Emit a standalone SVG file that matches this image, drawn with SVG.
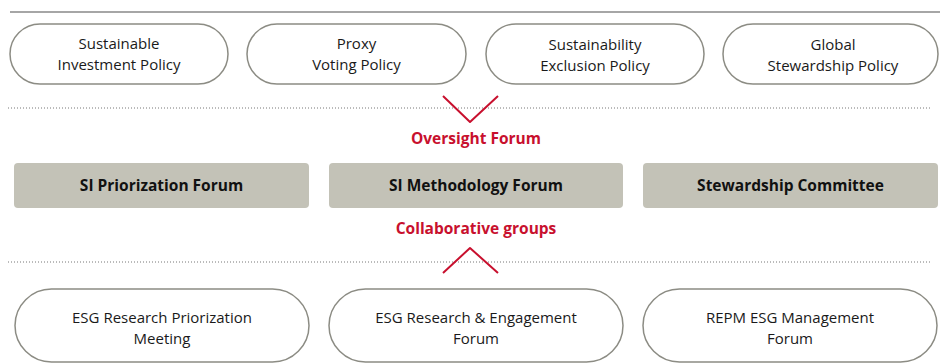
<svg xmlns="http://www.w3.org/2000/svg" width="940" height="364" viewBox="0 0 940 364">
<style>
.pill{fill:#fff;stroke:#8c8c84;stroke-width:1.5}
.box{fill:#c3c2b7}
.t{font-family:"Open Sans","Liberation Sans",sans-serif;font-size:15px;fill:#1a1a1a;text-anchor:middle}
.b{font-family:"Open Sans","Liberation Sans",sans-serif;font-size:15.5px;font-weight:bold;fill:#111;text-anchor:middle}
.r{font-family:"Open Sans","Liberation Sans",sans-serif;font-size:15.5px;font-weight:bold;fill:#c8102e;text-anchor:middle}
.dot{stroke:#777;stroke-width:1;stroke-dasharray:1 2;fill:none}
.chev{stroke:#c8102e;stroke-width:2;fill:none;stroke-linejoin:round}
</style>
<line x1="10" y1="12" x2="940" y2="12" stroke="#888" stroke-width="1.5"/>
<g id="connectors">
<line class="dot" x1="8" y1="108" x2="932" y2="108"/>
<line class="dot" x1="8" y1="262" x2="932" y2="262"/>
<polyline class="chev" points="443,96 470,122 498,96"/>
<polyline class="chev" points="443,273 470,248 498,273"/>
</g>
<g id="sip"><rect class="pill" x="10" y="24" width="218" height="60" rx="30"/><text class="t" x="119" y="49">Sustainable</text><text class="t" x="119" y="70">Investment Policy</text></g>
<g id="pvp"><rect class="pill" x="247" y="24" width="219" height="60" rx="30"/><text class="t" x="356.5" y="49">Proxy</text><text class="t" x="356.5" y="70">Voting Policy</text></g>
<g id="sep"><rect class="pill" x="486" y="24" width="218" height="60" rx="30"/><text class="t" x="595" y="50">Sustainability</text><text class="t" x="595" y="71">Exclusion Policy</text></g>
<g id="gsp"><rect class="pill" x="723" y="24" width="215" height="60" rx="30"/><text class="t" x="833" y="50">Global</text><text class="t" x="833" y="71">Stewardship Policy</text></g>
<g id="oversight"><text class="r" x="476" y="144">Oversight Forum</text></g>
<g id="sipf"><rect class="box" x="14" y="163" width="295" height="45" rx="4"/><text class="b" x="161.5" y="191">SI Priorization Forum</text></g>
<g id="simf"><rect class="box" x="329" y="163" width="294" height="45" rx="4"/><text class="b" x="476" y="191">SI Methodology Forum</text></g>
<g id="sc"><rect class="box" x="643" y="163" width="295" height="45" rx="4"/><text class="b" x="790.5" y="191">Stewardship Committee</text></g>
<g id="collab"><text class="r" x="476" y="234">Collaborative groups</text></g>
<g id="esgrpm"><rect class="pill" x="15" y="289" width="294" height="73" rx="36.5"/><text class="t" x="162" y="323">ESG Research Priorization</text><text class="t" x="162" y="344">Meeting</text></g>
<g id="esgref"><rect class="pill" x="329" y="289" width="294" height="73" rx="36.5"/><text class="t" x="476" y="323">ESG Research &amp; Engagement</text><text class="t" x="476" y="344">Forum</text></g>
<g id="repm"><rect class="pill" x="643" y="289" width="294" height="73" rx="36.5"/><text class="t" x="790" y="323">REPM ESG Management</text><text class="t" x="790" y="344">Forum</text></g>
</svg>
